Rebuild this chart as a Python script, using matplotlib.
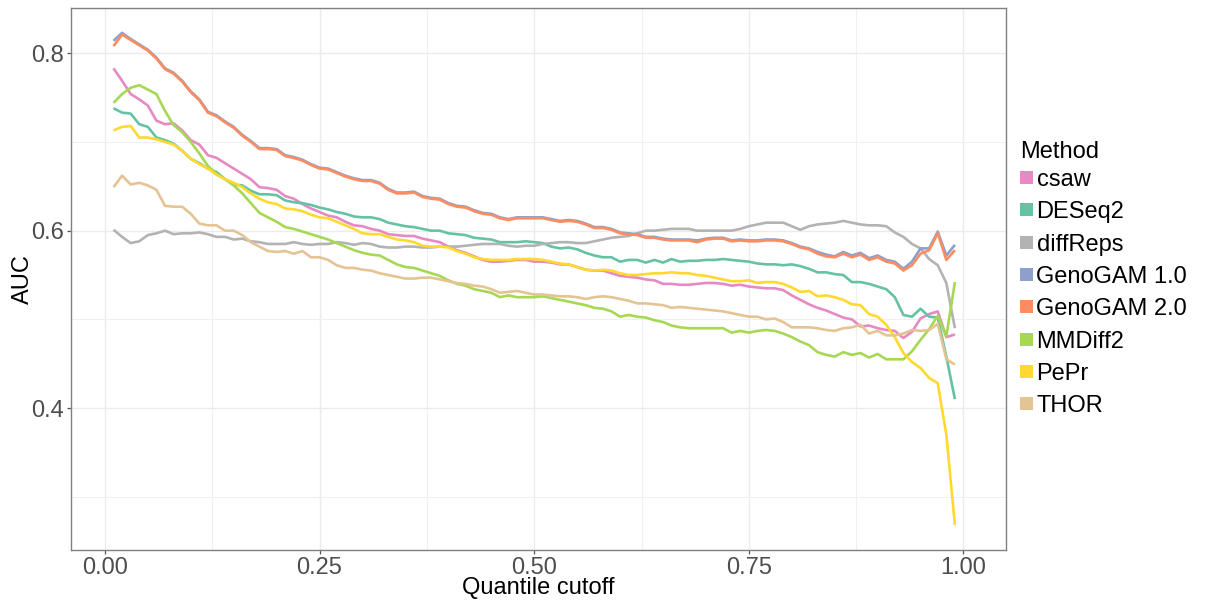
import numpy as np
import matplotlib
matplotlib.use("Agg")
import matplotlib.pyplot as plt
from matplotlib.patches import Rectangle
from matplotlib.ticker import MultipleLocator

plt.rcParams['font.family'] = ['Liberation Sans', 'DejaVu Sans']

# quantile cutoffs 0.01 ... 0.99
cutoff = np.round(np.arange(1, 100) / 100, 2)

csaw = [0.783, 0.769, 0.754, 0.748, 0.741, 0.724, 0.720, 0.721, 0.713, 0.702,
        0.697, 0.685, 0.682, 0.676, 0.670, 0.664, 0.658, 0.649, 0.648, 0.646,
        0.639, 0.636, 0.630, 0.625, 0.621, 0.617, 0.615, 0.610, 0.606, 0.605,
        0.602, 0.600, 0.596, 0.595, 0.594, 0.594, 0.591, 0.589, 0.587, 0.582,
        0.578, 0.575, 0.571, 0.567, 0.565, 0.565, 0.566, 0.567, 0.567, 0.565,
        0.565, 0.564, 0.562, 0.562, 0.559, 0.556, 0.555, 0.555, 0.552, 0.549,
        0.548, 0.547, 0.545, 0.544, 0.540, 0.540, 0.539, 0.539, 0.540, 0.541,
        0.541, 0.540, 0.538, 0.539, 0.537, 0.536, 0.535, 0.535, 0.533, 0.527,
        0.522, 0.517, 0.513, 0.510, 0.506, 0.502, 0.500, 0.492, 0.493, 0.490,
        0.488, 0.487, 0.479, 0.486, 0.501, 0.506, 0.509, 0.480, 0.483]

deseq2 = [0.738, 0.733, 0.732, 0.720, 0.717, 0.705, 0.702, 0.698, 0.690, 0.681,
          0.676, 0.670, 0.666, 0.658, 0.652, 0.651, 0.645, 0.641, 0.641, 0.640,
          0.634, 0.632, 0.631, 0.629, 0.626, 0.624, 0.621, 0.619, 0.616, 0.615,
          0.615, 0.613, 0.609, 0.607, 0.605, 0.604, 0.602, 0.600, 0.600, 0.597,
          0.596, 0.595, 0.592, 0.591, 0.590, 0.587, 0.587, 0.587, 0.588, 0.587,
          0.586, 0.582, 0.580, 0.581, 0.579, 0.575, 0.572, 0.570, 0.570, 0.565,
          0.567, 0.567, 0.564, 0.567, 0.564, 0.568, 0.565, 0.566, 0.566, 0.567,
          0.567, 0.568, 0.567, 0.566, 0.565, 0.563, 0.562, 0.562, 0.561, 0.562,
          0.560, 0.557, 0.553, 0.553, 0.551, 0.550, 0.542, 0.542, 0.540, 0.537,
          0.534, 0.525, 0.505, 0.503, 0.512, 0.503, 0.502, 0.458, 0.410]

diffreps = [0.601, 0.593, 0.586, 0.588, 0.595, 0.597, 0.600, 0.596, 0.597, 0.597,
            0.598, 0.596, 0.593, 0.593, 0.590, 0.591, 0.588, 0.587, 0.585, 0.585,
            0.585, 0.587, 0.585, 0.584, 0.585, 0.585, 0.587, 0.586, 0.584, 0.586,
            0.585, 0.582, 0.581, 0.581, 0.582, 0.582, 0.581, 0.581, 0.582, 0.582,
            0.582, 0.583, 0.584, 0.585, 0.585, 0.585, 0.583, 0.582, 0.583, 0.583,
            0.585, 0.586, 0.587, 0.587, 0.586, 0.586, 0.588, 0.590, 0.592, 0.593,
            0.594, 0.597, 0.600, 0.600, 0.601, 0.602, 0.602, 0.602, 0.600, 0.600,
            0.600, 0.600, 0.600, 0.602, 0.605, 0.607, 0.609, 0.609, 0.609, 0.605,
            0.601, 0.605, 0.607, 0.608, 0.609, 0.611, 0.609, 0.607, 0.606, 0.606,
            0.605, 0.598, 0.593, 0.585, 0.580, 0.568, 0.561, 0.541, 0.490]

genogam1 = [0.814, 0.823, 0.816, 0.810, 0.804, 0.795, 0.783, 0.778, 0.769, 0.757,
            0.748, 0.734, 0.730, 0.723, 0.717, 0.708, 0.701, 0.693, 0.693, 0.692,
            0.685, 0.683, 0.680, 0.675, 0.671, 0.670, 0.666, 0.662, 0.659, 0.657,
            0.657, 0.654, 0.647, 0.643, 0.643, 0.644, 0.639, 0.637, 0.636, 0.631,
            0.628, 0.627, 0.623, 0.620, 0.619, 0.615, 0.613, 0.615, 0.615, 0.615,
            0.615, 0.613, 0.611, 0.612, 0.611, 0.608, 0.604, 0.604, 0.602, 0.598,
            0.597, 0.596, 0.593, 0.593, 0.591, 0.590, 0.590, 0.590, 0.589, 0.591,
            0.592, 0.592, 0.589, 0.590, 0.589, 0.589, 0.590, 0.590, 0.589, 0.586,
            0.582, 0.580, 0.576, 0.573, 0.571, 0.576, 0.572, 0.575, 0.569, 0.572,
            0.567, 0.565, 0.557, 0.565, 0.580, 0.580, 0.599, 0.572, 0.584]

genogam2 = [0.808, 0.821, 0.815, 0.809, 0.803, 0.794, 0.782, 0.777, 0.768, 0.756,
            0.747, 0.733, 0.729, 0.722, 0.716, 0.707, 0.700, 0.692, 0.692, 0.691,
            0.684, 0.682, 0.679, 0.674, 0.670, 0.669, 0.665, 0.661, 0.658, 0.656,
            0.656, 0.653, 0.646, 0.642, 0.642, 0.643, 0.638, 0.636, 0.635, 0.630,
            0.627, 0.626, 0.622, 0.619, 0.618, 0.614, 0.612, 0.614, 0.614, 0.614,
            0.614, 0.612, 0.610, 0.611, 0.610, 0.607, 0.603, 0.603, 0.601, 0.597,
            0.596, 0.595, 0.592, 0.592, 0.590, 0.589, 0.589, 0.589, 0.587, 0.590,
            0.591, 0.591, 0.588, 0.589, 0.588, 0.588, 0.589, 0.589, 0.588, 0.585,
            0.581, 0.579, 0.574, 0.571, 0.570, 0.574, 0.570, 0.573, 0.567, 0.570,
            0.565, 0.563, 0.555, 0.561, 0.574, 0.578, 0.597, 0.567, 0.578]

mmdiff2 = [0.744, 0.754, 0.761, 0.764, 0.759, 0.754, 0.735, 0.719, 0.711, 0.700,
           0.687, 0.673, 0.664, 0.658, 0.651, 0.642, 0.631, 0.620, 0.615, 0.610,
           0.604, 0.602, 0.599, 0.596, 0.593, 0.590, 0.586, 0.582, 0.578, 0.575,
           0.573, 0.572, 0.567, 0.562, 0.559, 0.558, 0.555, 0.552, 0.549, 0.544,
           0.540, 0.538, 0.534, 0.532, 0.530, 0.525, 0.527, 0.525, 0.525, 0.525,
           0.526, 0.524, 0.522, 0.520, 0.518, 0.516, 0.513, 0.512, 0.509, 0.503,
           0.505, 0.503, 0.502, 0.499, 0.497, 0.493, 0.491, 0.490, 0.490, 0.490,
           0.490, 0.490, 0.485, 0.487, 0.485, 0.487, 0.488, 0.487, 0.484, 0.480,
           0.475, 0.471, 0.463, 0.460, 0.458, 0.463, 0.460, 0.462, 0.457, 0.461,
           0.455, 0.455, 0.455, 0.464, 0.477, 0.489, 0.504, 0.481, 0.542]

pepr = [0.713, 0.717, 0.718, 0.705, 0.705, 0.703, 0.700, 0.697, 0.690, 0.681,
        0.675, 0.670, 0.663, 0.658, 0.654, 0.649, 0.642, 0.636, 0.632, 0.630,
        0.625, 0.624, 0.622, 0.618, 0.615, 0.614, 0.610, 0.606, 0.602, 0.597,
        0.596, 0.596, 0.593, 0.590, 0.589, 0.587, 0.583, 0.582, 0.582, 0.581,
        0.577, 0.574, 0.570, 0.568, 0.567, 0.567, 0.567, 0.568, 0.568, 0.568,
        0.567, 0.565, 0.563, 0.562, 0.559, 0.556, 0.555, 0.556, 0.555, 0.552,
        0.550, 0.550, 0.551, 0.552, 0.552, 0.553, 0.552, 0.552, 0.550, 0.549,
        0.547, 0.545, 0.543, 0.543, 0.544, 0.541, 0.542, 0.542, 0.540, 0.536,
        0.531, 0.532, 0.526, 0.527, 0.525, 0.522, 0.517, 0.516, 0.506, 0.503,
        0.494, 0.480, 0.462, 0.452, 0.445, 0.434, 0.428, 0.370, 0.268]

thor = [0.649, 0.662, 0.652, 0.654, 0.651, 0.646, 0.628, 0.627, 0.627, 0.619,
        0.608, 0.606, 0.606, 0.600, 0.600, 0.595, 0.587, 0.582, 0.577, 0.576,
        0.577, 0.574, 0.577, 0.570, 0.570, 0.567, 0.561, 0.558, 0.558, 0.556,
        0.555, 0.552, 0.550, 0.548, 0.546, 0.546, 0.547, 0.547, 0.545, 0.543,
        0.541, 0.540, 0.538, 0.537, 0.534, 0.530, 0.531, 0.532, 0.530, 0.528,
        0.528, 0.527, 0.526, 0.526, 0.525, 0.523, 0.525, 0.526, 0.525, 0.523,
        0.521, 0.518, 0.518, 0.517, 0.516, 0.513, 0.514, 0.513, 0.512, 0.511,
        0.510, 0.509, 0.507, 0.505, 0.503, 0.503, 0.500, 0.501, 0.497, 0.491,
        0.491, 0.491, 0.490, 0.488, 0.487, 0.490, 0.491, 0.494, 0.484, 0.487,
        0.482, 0.482, 0.484, 0.488, 0.487, 0.488, 0.495, 0.455, 0.449]

methods = ["csaw", "DESeq2", "diffReps", "GenoGAM 1.0", "GenoGAM 2.0",
           "MMDiff2", "PePr", "THOR"]
series = [csaw, deseq2, diffreps, genogam1, genogam2, mmdiff2, pepr, thor]
palette = ["#E78AC3", "#66C2A5", "#B3B3B3", "#8DA0CB", "#FC8D62",
           "#A6D854", "#FFD92F", "#E5C494"]

W, H = 1205, 601
fig = plt.figure(figsize=(W / 100, H / 100), dpi=100)
fig.patch.set_facecolor("white")

# panel placed in pixel units
left, right, top, bottom = 71, 1006, 8, 550
ax = fig.add_axes([left / W, 1 - bottom / H, (right - left) / W, (bottom - top) / H])

for vals, col in zip(series, palette):
    ax.plot(cutoff, vals, color=col, lw=1.9, solid_joinstyle="round",
            solid_capstyle="butt", zorder=3)

ax.set_xlim(-0.0495 + 0.01, 1.0495)
ax.set_ylim(0.240, 0.851)

ax.xaxis.set_major_locator(MultipleLocator(0.25))
ax.xaxis.set_minor_locator(MultipleLocator(0.125))
ax.yaxis.set_major_locator(MultipleLocator(0.2))
ax.yaxis.set_minor_locator(MultipleLocator(0.1))
ax.set_xticks([0, 0.25, 0.5, 0.75, 1.0])
ax.set_xticklabels(["0.00", "0.25", "0.50", "0.75", "1.00"])
ax.set_yticks([0.4, 0.6, 0.8])
ax.set_yticklabels(["0.4", "0.6", "0.8"])

ax.grid(which="major", color="#ebebeb", lw=1.0, zorder=0)
ax.grid(which="minor", color="#f0f0f0", lw=0.8, zorder=0)
ax.set_axisbelow(True)

ax.tick_params(which="major", length=3.0, width=0.9, color="#555555",
               labelsize=17, labelcolor="#4d4d4d", pad=2.2)
ax.tick_params(which="minor", length=0)

for sp in ax.spines.values():
    sp.set_color("#808080")
    sp.set_linewidth(1.0)

# axis titles
fig.text(538 / W, 1 - 594 / H, "Quantile cutoff", fontsize=17, ha="center",
         va="baseline", color="black")
fig.text(22.5 / W, 1 - 279 / H, "AUC", fontsize=17, ha="center", va="center",
         rotation=90, color="black")

# legend
fig.text(1020 / W, 1 - 158 / H, "Method", fontsize=17, ha="left",
         va="baseline", color="black")
for k, (name, col) in enumerate(zip(methods, palette)):
    cy = 177.5 + 32.35 * k
    fig.patches.append(Rectangle((1020 / W, 1 - (cy + 6.5) / H), 13 / W, 13 / H,
                                 transform=fig.transFigure, facecolor=col,
                                 edgecolor="none"))
    fig.text(1036.5 / W, 1 - (cy + 8.5) / H, name, fontsize=17, ha="left",
             va="baseline", color="black")

fig.savefig("out.png", dpi=100, facecolor="white")
